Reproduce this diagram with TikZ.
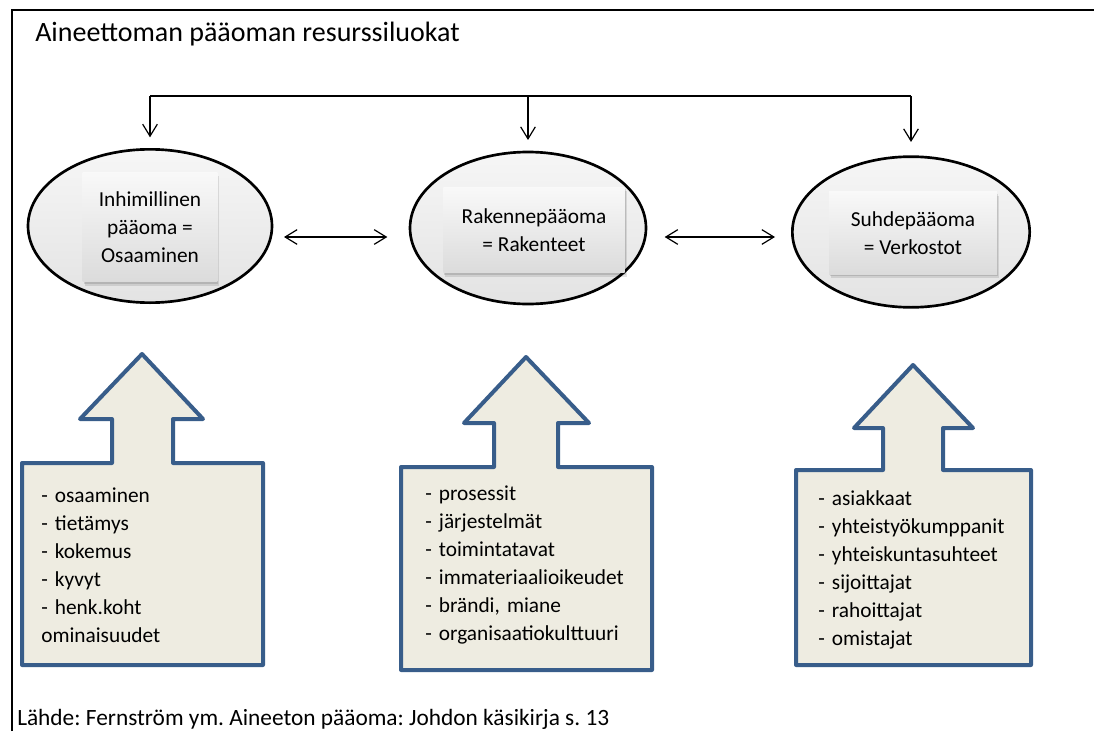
\documentclass[tikz,border=0pt]{standalone}
\usepackage{fontspec}
\setmainfont{Carlito}
\usetikzlibrary{arrows.meta,shapes.geometric}

\definecolor{calloutline}{RGB}{56,93,138}
\definecolor{calloutfill}{RGB}{238,236,225}

\begin{document}
\frenchspacing
\begin{tikzpicture}[
    x=0.75pt, y=-0.75pt,
    capital/.style={ellipse, draw=black, line width=2pt, top color=gray!7, bottom color=gray!22, inner sep=0pt},
    namebox/.style={rectangle, top color=gray!5, bottom color=gray!28,
        preaction={fill=black, opacity=0.10, transform canvas={xshift=1.5pt, yshift=-3pt}},
        preaction={fill=black, opacity=0.12, transform canvas={xshift=0.8pt, yshift=-1.5pt}},
        align=center, inner sep=0pt, font=\fontsize{16}{21}\selectfont},
    callout/.style={draw=calloutline, fill=calloutfill, line width=3pt, line join=round},
    items/.style={anchor=base west, text width=170pt, align=left, inner sep=0pt, font=\fontsize{16}{21}\selectfont},
    arrow/.style={-{Straight Barb[length=9pt, width=11pt]}, line width=0.9pt},
    dblarrow/.style={{Straight Barb[length=9pt, width=11pt]}-{Straight Barb[length=9pt, width=11pt]}, line width=0.9pt}
]
    \useasboundingbox (0,0) rectangle (1094,731);

    % Frame and texts
    \draw[line width=2.2pt] (12,731) -- (12,10) -- (1094,10);
    \node[anchor=base west, inner sep=0pt, font=\fontsize{21}{25}\selectfont] (title) at (35,42) {Aineettoman pääoman resurssiluokat};
    \node[anchor=base west, inner sep=0pt, font=\fontsize{17.5}{20}\selectfont] (source) at (17,725) {Lähde: Fernström ym. Aineeton pääoma: Johdon käsikirja s. 13};

    % Capitals
    \node[capital, minimum width=183pt, minimum height=115pt] (hc) at (150,226) {};
    \node[capital, minimum width=177pt, minimum height=114pt] (sc) at (528,228) {};
    \node[capital, minimum width=178pt, minimum height=113pt] (rc) at (911,232) {};
    \node[namebox, minimum width=101pt, minimum height=82pt] (hc_name) at (150,227) {Inhimillinen\\pääoma =\\Osaaminen};
    \node[namebox, minimum width=136pt, minimum height=64pt] (sc_name) at (534,230) {Rakennepääoma\\= Rakenteet};
    \node[namebox, minimum width=126pt, minimum height=62pt] (rc_name) at (913,233) {Suhdepääoma\\= Verkostot};

    % Top connector
    \coordinate (bus) at (0,96);
    \draw[line width=0.9pt] (hc.north |- bus) -- (rc.north |- bus);
    \draw[arrow, shorten >=8pt] (hc.north |- bus) -- (hc.north);
    \draw[arrow, shorten >=8pt] (sc.north |- bus) -- (sc.north);
    \draw[arrow, shorten >=10pt] (rc.north |- bus) -- (rc.north);

    % Links between capitals
    \coordinate (link) at (0,237);
    \draw[dblarrow, shorten <=8pt, shorten >=16pt] (hc.east |- link) -- (sc.west |- link);
    \draw[dblarrow, shorten <=13pt, shorten >=12pt] (sc.east |- link) -- (rc.west |- link);

    % Up arrows with resources
    \draw[callout] (142,354) -- (203,419) -- (173,419) -- (173,463) -- (263,463) -- (263,665)
        -- (22,665) -- (22,463) -- (112,463) -- (112,419) -- (80,419) -- cycle;
    \draw[callout] (526,357) -- (589,423) -- (558,423) -- (558,467) -- (652,467) -- (652,670)
        -- (401,670) -- (401,467) -- (494,467) -- (494,423) -- (464,423) -- cycle;
    \draw[callout] (913,365) -- (973,428) -- (943,428) -- (943,470) -- (1031,470) -- (1031,665)
        -- (796,665) -- (796,470) -- (883,470) -- (883,428) -- (854,428) -- cycle;

    \node[items] (hc_list) at (41,502) {- osaaminen\\- tietämys\\- kokemus\\- kyvyt\\- henk.koht\\ominaisuudet};
    \node[items] (sc_list) at (425,500) {- prosessit\\- järjestelmät\\- toimintatavat\\- immateriaalioikeudet\\- brändi, miane\\- organisaatiokulttuuri};
    \node[items] (rc_list) at (818,505) {- asiakkaat\\- yhteistyökumppanit\\- yhteiskuntasuhteet\\- sijoittajat\\- rahoittajat\\- omistajat};
\end{tikzpicture}
\end{document}
